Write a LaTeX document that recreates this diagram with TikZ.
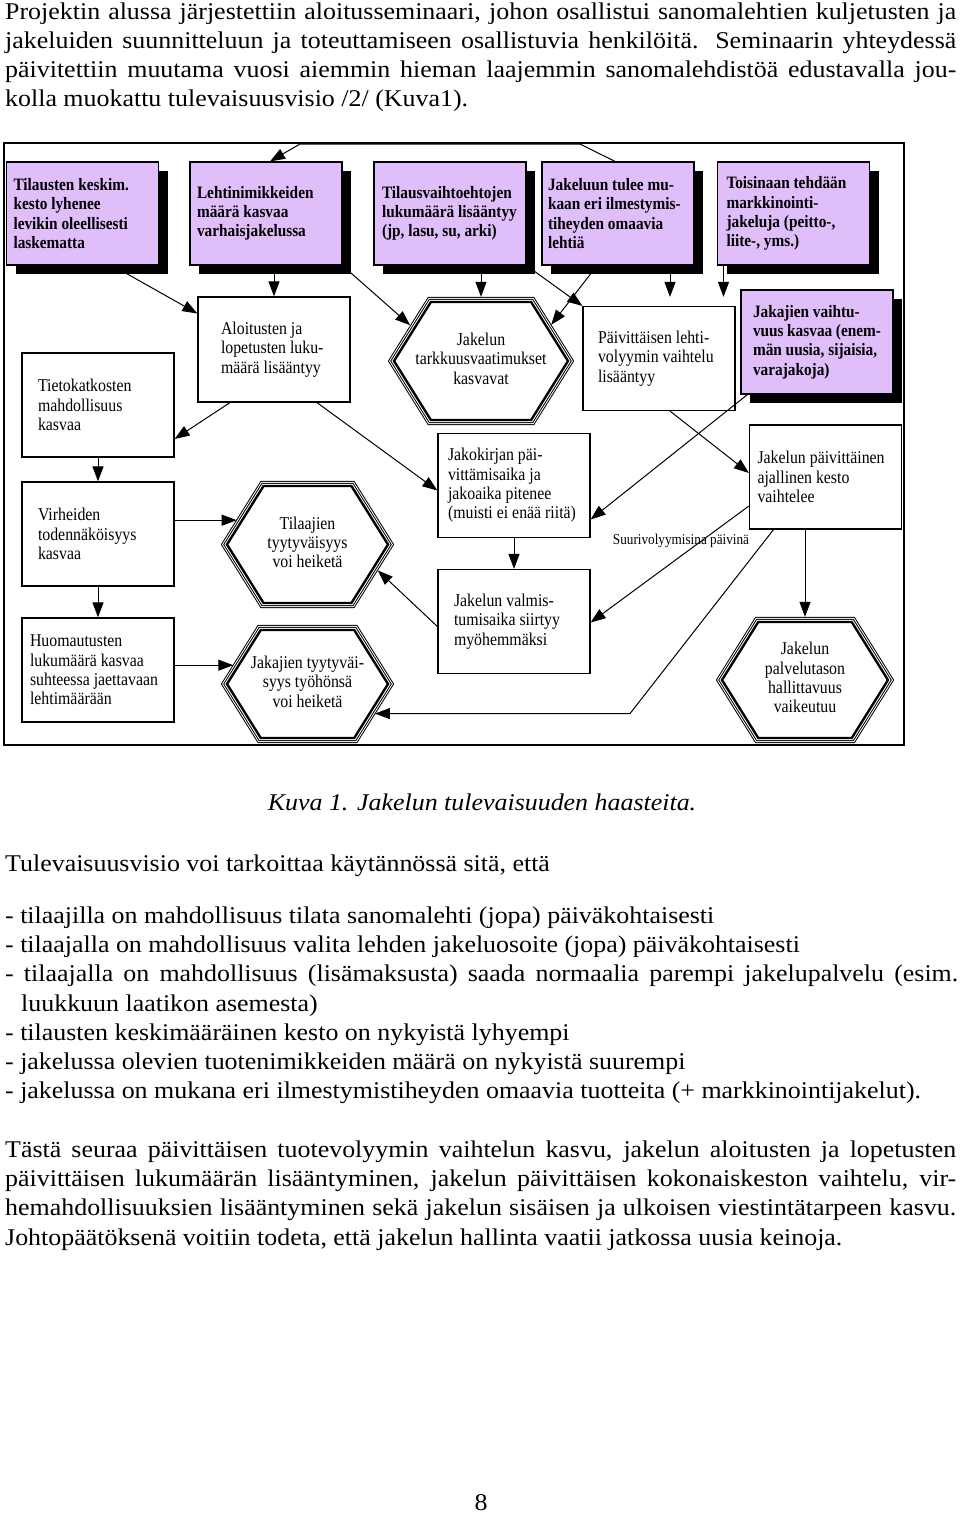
\documentclass[tikz,border=0pt]{standalone}
\usepackage{fontspec}
\setmainfont{Liberation Serif}
\newfontfamily\bodyfont{Liberation Serif}[FakeStretch=1.08]
\newfontfamily\kaaviofont{Liberation Serif}[FakeStretch=0.88]
\usetikzlibrary{arrows.meta,shapes.symbols,shadows}
\definecolor{lila}{RGB}{224,190,250}
\newcommand{\keskelle}[1]{\makebox[0pt]{\begin{tabular}{@{}c@{}}#1\end{tabular}}}
\hyphenpenalty=10000
\exhyphenpenalty=10000

\begin{document}
\begin{tikzpicture}[x=1pt,y=-1pt,
    laatikko/.style={draw, line width=1.2pt, minimum height=104pt, inner ysep=0pt, align=left,
      font=\kaaviofont\fontsize{18}{19.3}\selectfont, execute at begin node={\spaceskip=0pt\xspaceskip=0pt}},
    lilalaatikko/.style={laatikko, minimum height=103pt, fill=lila,
      font=\kaaviofont\bfseries\fontsize{17.4}{19.3}\selectfont,
      drop shadow={shadow xshift=9pt, shadow yshift=-9pt, fill=black, opacity=1}},
    kuusikulmio/.style={signal, signal to=east and west, signal pointer angle=116, draw, fill=white,
      line width=2.4pt, preaction={draw, line width=10.4pt}, preaction={draw=white, line width=8.4pt},
      preaction={draw, line width=6.4pt}, preaction={draw=white, line width=4.4pt},
      inner sep=0pt, font=\kaaviofont\fontsize{18}{19.3}\selectfont},
    nuoli/.style={-{Triangle[length=15pt,width=11pt]}, line width=1pt},
    leipa/.style={inner sep=0pt, align=left, font=\bodyfont\fontsize{24}{29.2}\selectfont}]
  \useasboundingbox (0,0) rectangle (960,1513);

  % teksti ennen kuvaa
  \node[leipa, anchor=north west] (alku) at (5,2.2) {%
    \makebox[951pt][s]{Projektin alussa järjestettiin aloitusseminaari, johon osallistui sanomalehtien kuljetusten ja}\\
    \makebox[951pt][s]{jakeluiden suunnitteluun ja toteuttamiseen osallistuvia henkilöitä. Seminaarin yhteydessä}\\
    \makebox[951pt][s]{päivitettiin muutama vuosi aiemmin hieman laajemmin sanomalehdistöä edustavalla jou-}\\
    kolla muokattu tulevaisuusvisio /2/ (Kuva1).};

  % kehys
  \draw[line width=2pt] (4,143) rectangle (904,745);

  % ylarivi
  \node[lilalaatikko, inner xsep=7pt, text width=138pt] (tk) at (82.5,213.5)
    {Tilausten keskim.\\ kesto lyhenee\\ levikin oleellisesti\\ laskematta};
  \node[lilalaatikko, inner xsep=7pt, text width=138pt] (ln) at (266,213.5)
    {Lehtinimikkeiden\\ määrä kasvaa\\ varhaisjakelussa};
  \node[lilalaatikko, inner xsep=8pt, text width=136pt] (tv) at (450,213.5)
    {Tilausvaihtoehtojen\\ lukumäärä~lisääntyy\\ (jp, lasu, su, arki)\\[19pt]};
  \node[lilalaatikko, inner xsep=6pt, text width=140pt] (ji) at (618,213.5)
    {Jakeluun~tulee~mu-\\ kaan~eri~ilmestymis-\\ tiheyden~omaavia\\ lehtiä};
  \node[lilalaatikko, inner xsep=9pt, text width=134pt] (tm) at (793.5,213.5)
    {Toisinaan~tehdään\\ markkinointi-\\ jakeluja~(peitto-,\\ liite-, yms.)};
  \node[lilalaatikko, minimum height=104pt, inner xsep=12pt, text width=128pt] (jv) at (817,342)
    {Jakajien~vaihtu-\\ vuus~kasvaa~(enem-\\ män~uusia,~sijaisia,\\ varajakoja)};

  % keskiosa
  \node[laatikko, minimum height=105pt, inner xsep=23pt, text width=106pt] (al) at (274,349.5)
    {Aloitusten ja\\ lopetusten~luku-\\ määrä~lisääntyy};
  \node[kuusikulmio, minimum width=174pt, minimum height=118pt] (tr) at (481,361)
    {\keskelle{Jakelun\\ tarkkuusvaatimukset\\ kasvavat}};
  \node[laatikko, inner xsep=15pt, text width=122pt] (pv) at (659,358.5)
    {Päivittäisen~lehti-\\ volyymin~vaihtelu\\ lisääntyy};
  \node[laatikko, inner xsep=16pt, text width=120pt] (tt) at (98,405)
    {Tietokatkosten\\ mahdollisuus\\ kasvaa};
  \node[laatikko, inner xsep=16pt, text width=120pt] (vh) at (98,534)
    {Virheiden\\ todennäköisyys\\ kasvaa\\[6pt]};
  \node[laatikko, inner xsep=8pt, text width=136pt] (hm) at (98,670)
    {Huomautusten\\ lukumäärä~kasvaa\\ suhteessa~jaettavaan\\ lehtimäärään};
  \node[kuusikulmio, minimum width=161pt, minimum height=117pt] (ty) at (307.5,544.5)
    {\keskelle{Tilaajien\\ tyytyväisyys\\ voi heiketä}};
  \node[kuusikulmio, minimum width=161pt, minimum height=108pt] (jt) at (307.5,684)
    {\keskelle{Jakajien tyytyväi-\\ syys työhönsä\\ voi heiketä}};
  \node[laatikko, inner xsep=10pt, text width=132pt] (jk) at (514,485.5)
    {Jakokirjan~päi-\\ vittämisaika~ja\\ jakoaika~pitenee\\ (muisti~ei~enää~riitä)};
  \node[laatikko, inner xsep=16pt, text width=120pt] (vm) at (514,621.5)
    {Jakelun~valmis-\\ tumisaika~siirtyy\\ myöhemmäksi\\[8pt]};
  \node[laatikko, inner xsep=8pt, text width=136pt] (jp) at (825.5,477)
    {Jakelun~päivittäinen\\ ajallinen~kesto\\ vaihtelee};
  \node[kuusikulmio, minimum width=166pt, minimum height=116pt] (ph) at (805,680)
    {\keskelle{Jakelun\\ palvelutason\\ hallittavuus\\ vaikeutuu}};
  \node[font=\kaaviofont\fontsize{15}{16}\selectfont, inner sep=0pt] (suuri) at (681,541)
    {Suurivolyymisina päivinä};

  % nuolet
  \coordinate (ylaO) at (580,144);
  \coordinate (ylaV) at (300,144);
  \draw[nuoli] ([xshift=-3pt]ji.north) -- (ylaO) -- (ylaV) -- ([xshift=4pt]ln.north);
  \draw[nuoli] ([xshift=30pt]tk.south) -- ([yshift=36pt]al.west);
  \draw[nuoli] (al.north |- ln.south) -- (al.north);
  \draw[nuoli, shorten >=4pt] (ln.south east) -- (tr.154);
  \draw[nuoli, shorten >=4pt] (tr.north |- tv.south) -- (tr.north);
  \draw[nuoli] (tv.south east) -- (pv.north west);
  \draw[nuoli, shorten >=4pt] ([xshift=-21pt]ji.south) -- (tr.26);
  \draw[nuoli, shorten >=9pt] ([xshift=52pt]ji.south) -- ([xshift=52pt]ji.south |- pv.north);
  \draw[nuoli, shorten >=9pt] ([xshift=-70pt]tm.south) -- ([xshift=-70pt]tm.south |- pv.north);
  \draw[nuoli] ([xshift=-44pt]al.south) -- ([yshift=-34pt]tt.east);
  \draw[nuoli] ([xshift=43pt]al.south) -- ([yshift=-5pt]jk.west);
  \draw[nuoli] (tt.south) -- (vh.north);
  \draw[nuoli] (vh.south) -- (hm.north);
  \draw[nuoli, shorten >=4pt] (vh.east |- ty.160) -- (ty.160);
  \draw[nuoli, shorten >=4pt] (hm.east |- jt.165) -- (jt.165);
  \draw[nuoli, shorten >=4pt] ([yshift=-5pt]vm.west) -- (ty.341);
  \draw[nuoli] (jk.south) -- (vm.north);
  \draw[nuoli, shorten >=4pt] (ph.north |- jp.south) -- (ph.north);
  \draw[nuoli] ([xshift=11pt]pv.south) -- ([yshift=4pt]jp.west);
  \draw[nuoli] ([xshift=7pt]jv.south west) -- ([yshift=-34pt]jk.east);
  \draw[nuoli] ([yshift=-29pt]jp.west) -- ([yshift=-1pt]vm.east);
  \coordinate (mutka) at (630,713);
  \draw[nuoli, shorten >=4pt] ([xshift=-52pt]jp.south) -- (mutka |- jt.335) -- (jt.335);

  % teksti kuvan jalkeen
  \node[leipa, font=\bodyfont\itshape\fontsize{24}{29.2}\selectfont, anchor=base] (kuva) at (482,810.7)
    {Kuva 1. Jakelun tulevaisuuden haasteita.};
  \node[leipa, anchor=base west] (visio) at (5,871.7)
    {Tulevaisuusvisio voi tarkoittaa käytännössä sitä, että};
  \node[leipa, anchor=north west] (lista) at (5,906.6) {%
    - tilaajilla on mahdollisuus tilata sanomalehti (jopa) päiväkohtaisesti\\
    - tilaajalla on mahdollisuus valita lehden jakeluosoite (jopa) päiväkohtaisesti\\
    \makebox[953pt][s]{- tilaajalla on mahdollisuus (lisämaksusta) saada normaalia parempi jakelupalvelu (esim.}\\
    \hspace*{16pt}luukkuun laatikon asemesta)\\
    - tilausten keskimääräinen kesto on nykyistä lyhyempi\\
    - jakelussa olevien tuotenimikkeiden määrä on nykyistä suurempi\\
    - jakelussa on mukana eri ilmestymistiheyden omaavia tuotteita (+ markkinointijakelut).};
  \node[leipa, anchor=north west] (loppu) at (5,1140.6) {%
    \makebox[951pt][s]{Tästä seuraa päivittäisen tuotevolyymin vaihtelun kasvu, jakelun aloitusten ja lopetusten}\\
    \makebox[951pt][s]{päivittäisen lukumäärän lisääntyminen, jakelun päivittäisen kokonaiskeston vaihtelu, vir-}\\
    \makebox[951pt][s]{hemahdollisuuksien lisääntyminen sekä jakelun sisäisen ja ulkoisen viestintätarpeen kasvu.}\\
    Johtopäätöksenä voitiin todeta, että jakelun hallinta vaatii jatkossa uusia keinoja.};
  \node[leipa, anchor=base] (sivu) at (481,1510) {8};
\end{tikzpicture}
\end{document}
